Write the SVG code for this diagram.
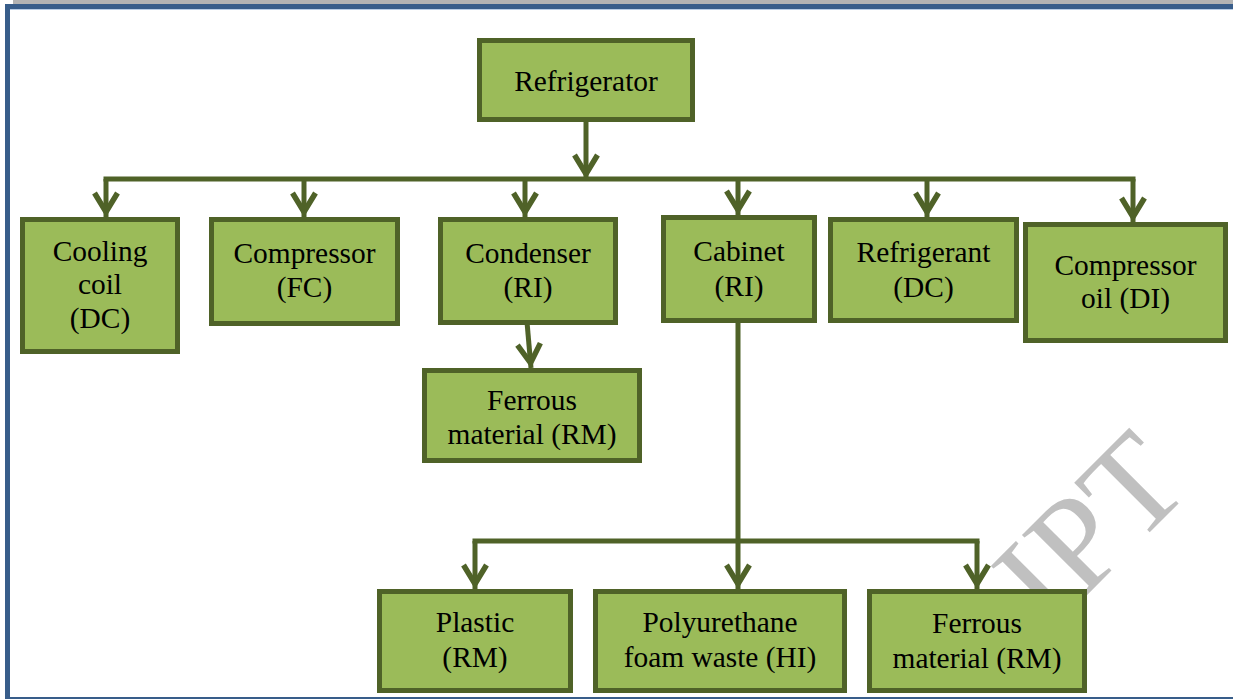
<svg xmlns="http://www.w3.org/2000/svg" width="1233" height="699" viewBox="0 0 1233 699">
<style>
.box{fill:#9bbb59;stroke:#4f6228;stroke-width:5}
.t{font-family:"Liberation Serif","Times New Roman",serif;font-size:29.4px;fill:#000;text-anchor:middle}
.c{fill:none;stroke:#4f6228;stroke-width:5}
.wm{font-family:"Liberation Serif","Times New Roman",serif;font-size:135px;fill:#c0c0c0}
</style>
<defs>
<marker id="arr" markerUnits="userSpaceOnUse" markerWidth="30" markerHeight="30" orient="auto" overflow="visible">
<path d="M-24,-11.5 L-5,0 L-24,11.5" fill="none" stroke="#4f6228" stroke-width="5.5"/>
</marker>
</defs>
<rect x="0" y="0" width="1233" height="699" fill="#ffffff"/>
<rect x="13" y="0" width="1220" height="4" fill="#b3b3b3"/>
<path d="M1240 6.5 H7.5 V699.5 H1240" fill="none" stroke="#385d8a" stroke-width="5"/>
<path d="M10 9.5 H1233" stroke="#b9cde5" stroke-width="1"/>
<text class="wm" transform="translate(1050 632) rotate(-45)">IPT</text>
<g id="connectors">
<path class="c" d="M586 122 V179" marker-end="url(#arr)"/>
<path class="c" d="M106 179 H1133" stroke-linecap="square"/>
<path class="c" d="M106 179 V217" marker-end="url(#arr)"/>
<path class="c" d="M304 179 V217" marker-end="url(#arr)"/>
<path class="c" d="M525 179 V217" marker-end="url(#arr)"/>
<path class="c" d="M738 179 V215" marker-end="url(#arr)"/>
<path class="c" d="M927 179 V217" marker-end="url(#arr)"/>
<path class="c" d="M1133 179 V222" marker-end="url(#arr)"/>
<path class="c" d="M527 322 L531 368" marker-end="url(#arr)"/>
<path class="c" d="M738 320 V589" marker-end="url(#arr)"/>
<path class="c" d="M475 541 H977" stroke-linecap="square"/>
<path class="c" d="M475 541 V589" marker-end="url(#arr)"/>
<path class="c" d="M977 541 V589" marker-end="url(#arr)"/>
</g>
<g id="refrigerator"><rect class="box" x="479.5" y="40.5" width="213" height="79"/><text class="t" x="586" y="91">Refrigerator</text></g>
<g id="cooling-coil"><rect class="box" x="22.5" y="219.5" width="155" height="132"/><text class="t" x="100" y="261">Cooling</text><text class="t" x="100" y="294">coil</text><text class="t" x="100" y="328">(DC)</text></g>
<g id="compressor"><rect class="box" x="211.5" y="219.5" width="186" height="104"/><text class="t" x="304.5" y="263">Compressor</text><text class="t" x="304.5" y="297">(FC)</text></g>
<g id="condenser"><rect class="box" x="440.5" y="219.5" width="175" height="103"/><text class="t" x="528" y="263">Condenser</text><text class="t" x="528" y="297">(RI)</text></g>
<g id="cabinet"><rect class="box" x="663.5" y="217.5" width="151" height="103"/><text class="t" x="739" y="261">Cabinet</text><text class="t" x="739" y="296">(RI)</text></g>
<g id="refrigerant"><rect class="box" x="830.5" y="219.5" width="186" height="101"/><text class="t" x="923.5" y="262">Refrigerant</text><text class="t" x="923.5" y="297">(DC)</text></g>
<g id="compressor-oil"><rect class="box" x="1025.5" y="224.5" width="200" height="116"/><text class="t" x="1125.5" y="275">Compressor</text><text class="t" x="1125.5" y="308">oil (DI)</text></g>
<g id="ferrous-1"><rect class="box" x="424.5" y="370.5" width="215" height="90"/><text class="t" x="532" y="410">Ferrous</text><text class="t" x="532" y="444">material (RM)</text></g>
<g id="plastic"><rect class="box" x="379.5" y="591.5" width="191" height="99"/><text class="t" x="475" y="632">Plastic</text><text class="t" x="475" y="667">(RM)</text></g>
<g id="polyurethane"><rect class="box" x="595.5" y="591.5" width="249" height="99"/><text class="t" x="720" y="632">Polyurethane</text><text class="t" x="720" y="667">foam waste (HI)</text></g>
<g id="ferrous-2"><rect class="box" x="869.5" y="591.5" width="215" height="99"/><text class="t" x="977" y="633">Ferrous</text><text class="t" x="977" y="668">material (RM)</text></g>
</svg>
